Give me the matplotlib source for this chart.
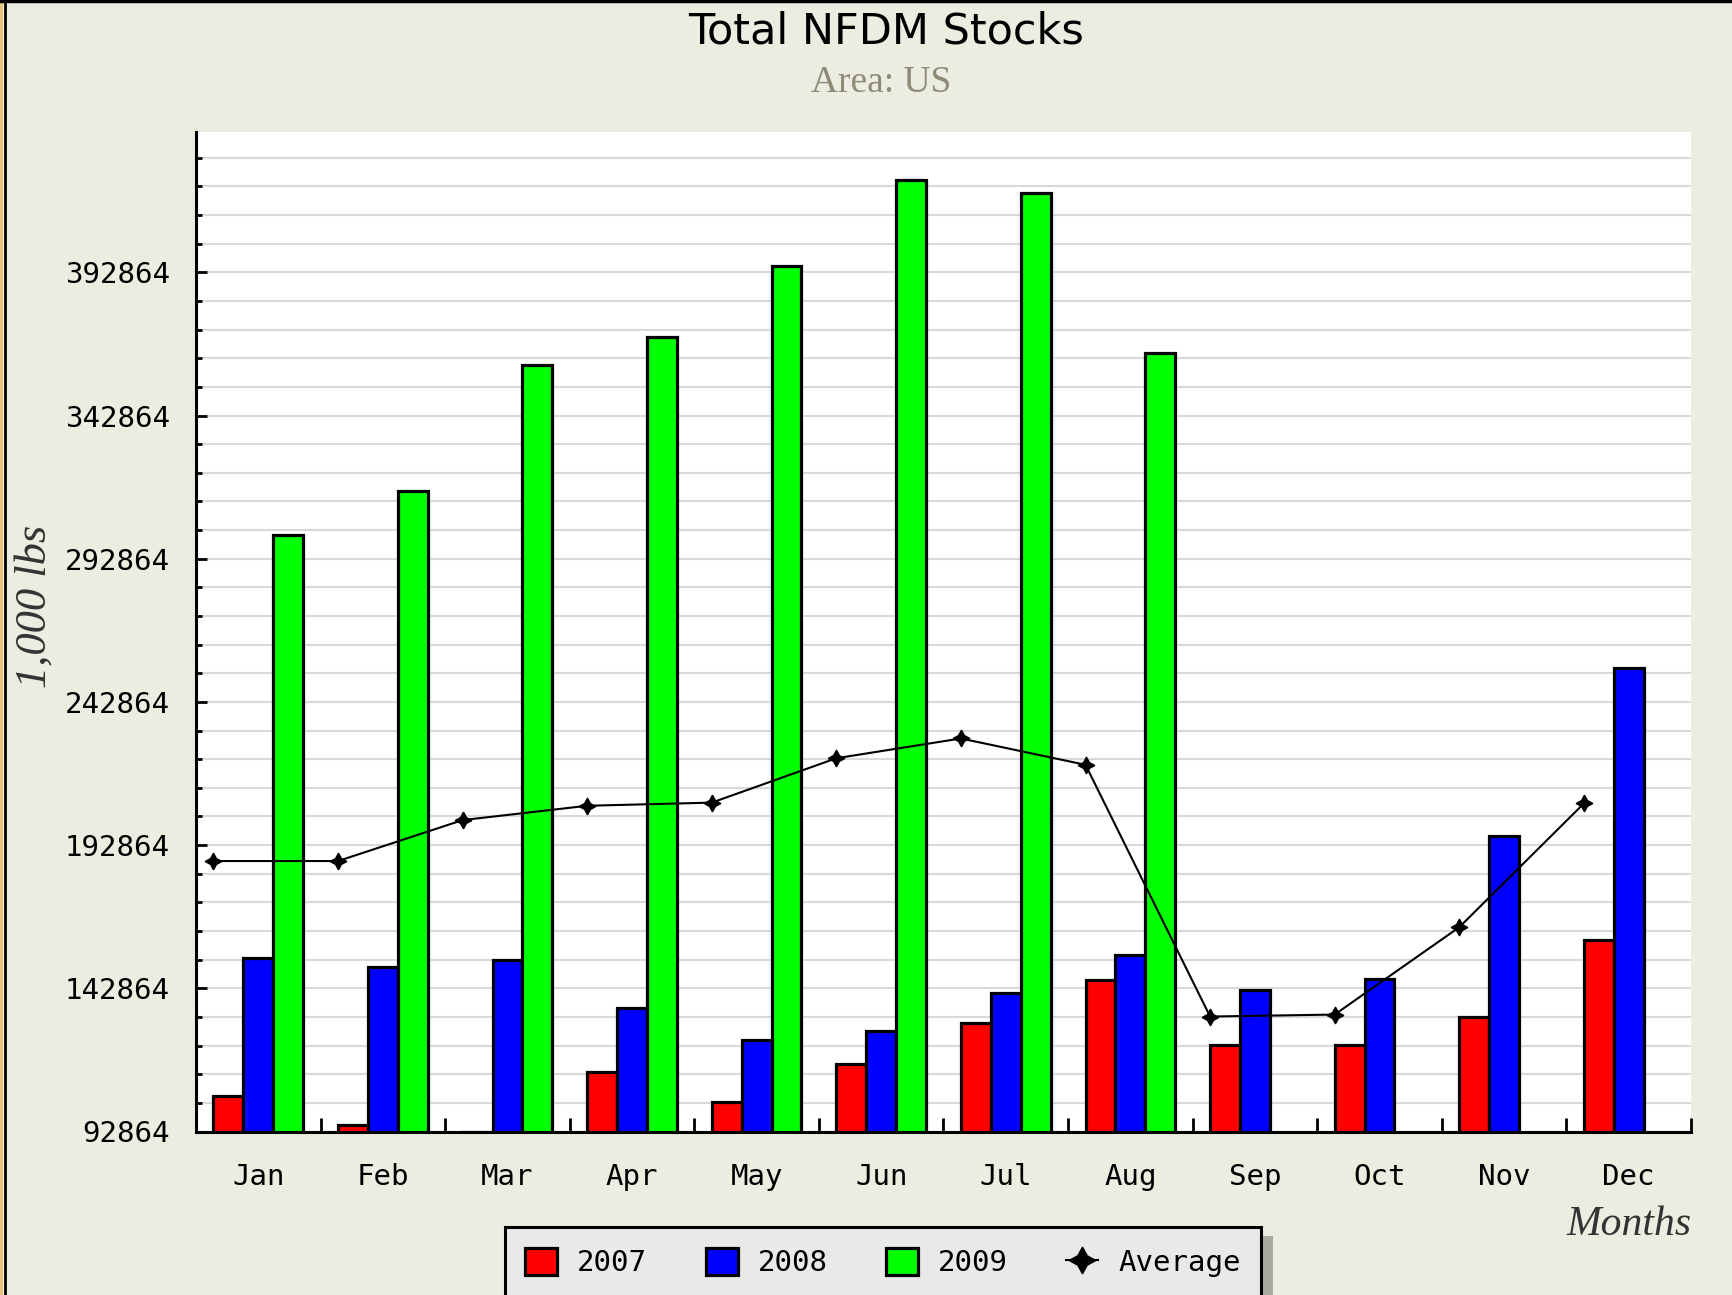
import matplotlib
matplotlib.use("Agg")
import matplotlib.pyplot as plt
from matplotlib.lines import Line2D
from matplotlib.patches import Rectangle
import numpy as np

# values (1,000 lbs)
months = ['Jan', 'Feb', 'Mar', 'Apr', 'May', 'Jun',
          'Jul', 'Aug', 'Sep', 'Oct', 'Nov', 'Dec']
stocks_2007 = [105200, 95200, 92864, 113700, 103300, 116400,
               130600, 145700, 122900, 122900, 133000, 159600]
stocks_2008 = [153400, 150300, 152600, 136000, 124900, 127900,
               141100, 154500, 142200, 146100, 196200, 254800]
stocks_2009 = [301000, 316500, 360400, 370400, 395100, 425200,
               420500, 364600, None, None, None, None]
average = [187300, 187300, 201600, 206600, 207700, 223200,
           230100, 220900, 133000, 133700, 164200, 207400]

y_base = 92864
y_top = 441864

W, H = 1733, 1295
plt.rcParams['font.family'] = ['DejaVu Sans Mono']

fig = plt.figure(figsize=(W / 100, H / 100), dpi=100, facecolor='#ecece0')
ax = fig.add_axes([196 / W, 1 - 1131.5 / H, (1691 - 196) / W, (1131.5 - 132) / H])
ax.set_facecolor('white')

x = np.arange(len(months))
w = 0.24

series = [(stocks_2007, '#ff0000', '2007', -w),
          (stocks_2008, '#0000ff', '2008', 0.0),
          (stocks_2009, '#00ff00', '2009', w)]
handles = []
for vals, col, lab, off in series:
    xs = [xi + off for xi, v in zip(x, vals) if v is not None]
    vs = [v for v in vals if v is not None]
    bars = ax.bar(xs, vs, width=w, color=col, edgecolor='black',
                  linewidth=2.3, label=lab, zorder=3)
    handles.append(bars)

# the average points sit on the left edge of each month's bar group
avg_line, = ax.plot(x - 1.5 * w, average, color='black', lw=1.5,
                    marker=(4, 1, 0), markersize=12, label='Average', zorder=4)
handles.append(avg_line)

ax.set_xlim(-0.5, len(months) - 0.5)
ax.set_ylim(y_base, y_top)

ax.set_yticks(np.arange(y_base, 392865, 50000))
ax.set_yticks(np.arange(y_base, y_top, 10000), minor=True)
ax.set_yticklabels([str(int(v)) for v in np.arange(y_base, 392865, 50000)])
ax.set_xticks(x)
ax.set_xticklabels(months)
ax.set_xticks(np.arange(-0.5, len(months), 1.0), minor=True)

ax.yaxis.grid(True, which='both', color='#d9d9d9', lw=1.5, zorder=0)
ax.set_axisbelow(True)

ax.tick_params(axis='y', which='major', direction='in', length=8, width=2,
               pad=19, labelsize=21)
ax.tick_params(axis='y', which='minor', direction='in', length=4, width=2)
ax.tick_params(axis='x', which='major', length=0, pad=23, labelsize=21)
ax.tick_params(axis='x', which='minor', direction='in', length=10, width=2)

for s in ['top', 'right']:
    ax.spines[s].set_visible(False)
for s in ['left', 'bottom']:
    ax.spines[s].set_linewidth(2.2)
    ax.spines[s].set_zorder(5)

# titles and axis labels
fig.text(886 / W, 1 - 44 / H, 'Total NFDM Stocks', ha='center', va='baseline',
         family='DejaVu Sans', fontsize=31, color='black')
fig.text(881 / W, 1 - 92 / H, 'Area: US', ha='center', va='baseline',
         family='Liberation Serif', fontsize=27, color='#8b8b76')
fig.text(35 / W, 1 - 606 / H, '1,000 lbs', rotation=90, ha='center', va='center',
         family='Liberation Serif', style='italic', fontsize=32, color='#333333')
fig.text(1692 / W, 1 - 1235 / H, 'Months', ha='right', va='baseline',
         family='Liberation Serif', style='italic', fontsize=30, color='#333333')

leg = fig.legend(handles=handles, labels=['2007', '2008', '2009', 'Average'],
                 loc='center', bbox_to_anchor=(883 / W, 1 - 1262.5 / H),
                 ncol=4, prop={'family': 'DejaVu Sans Mono', 'size': 21},
                 handlelength=1.1, handleheight=1.06, handletextpad=0.68,
                 columnspacing=2.0, borderpad=0.7, markerscale=1.6,
                 fancybox=False, framealpha=1,
                 shadow={'ox': 7, 'oy': -7, 'facecolor': '#a9a9a0',
                         'edgecolor': '#a9a9a0', 'alpha': 1})
frame = leg.get_frame()
frame.set_facecolor('#e9e9e9')
frame.set_edgecolor('black')
frame.set_linewidth(2.2)

# outer frame of the picture
fig.add_artist(Rectangle((0, 0), 3.3 / W, 1, transform=fig.transFigure,
                         color='#e6c27a', lw=0))
fig.add_artist(Line2D([4.7 / W, 4.7 / W], [0, 1], transform=fig.transFigure,
                      color='black', lw=2))
fig.add_artist(Line2D([0, 1], [1 - 1.3 / H, 1 - 1.3 / H], transform=fig.transFigure,
                      color='black', lw=2.5))

fig.savefig('out.png', dpi=100, facecolor=fig.get_facecolor())
